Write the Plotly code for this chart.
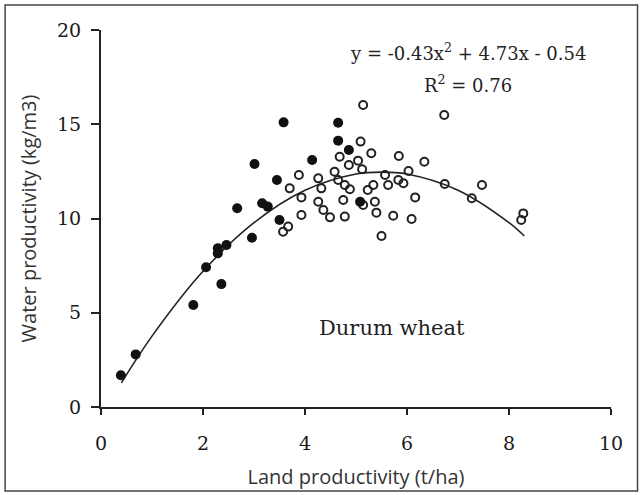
import plotly.graph_objects as go

# Filled markers
filled_x = [0.39, 0.68, 1.81, 2.06, 2.29, 2.29, 2.46, 2.36, 2.67, 2.96, 3.01, 3.16, 3.27,
            3.45, 3.50, 3.58, 4.14, 4.65, 4.65, 4.86, 5.08]
filled_y = [1.68, 2.79, 5.41, 7.41, 8.42, 8.15, 8.59, 6.52, 10.54, 8.98, 12.89, 10.81, 10.63,
            12.04, 9.92, 15.10, 13.10, 15.08, 14.13, 13.63, 10.89]

# Open markers
open_x = [5.14, 6.73, 5.09, 5.30, 4.68, 5.04, 4.86, 5.84, 6.34, 5.12, 3.88, 4.58, 4.26, 4.65,
          5.57, 6.03, 5.83, 5.93, 5.34, 5.63, 6.74, 7.47, 4.32, 4.78, 4.88, 5.23, 3.70, 3.93,
          4.26, 4.75, 5.14, 5.37, 6.16, 7.27, 4.36, 3.93, 4.49, 4.78, 5.40, 5.73, 6.09, 5.50,
          8.28, 8.24, 3.67, 3.57]
open_y = [16.02, 15.49, 14.08, 13.46, 13.28, 13.07, 12.84, 13.32, 13.01, 12.61, 12.31, 12.48,
          12.13, 12.04, 12.31, 12.52, 12.04, 11.87, 11.78, 11.78, 11.83, 11.78, 11.60, 11.78,
          11.55, 11.51, 11.60, 11.12, 10.89, 10.98, 10.72, 10.89, 11.12, 11.07, 10.45, 10.19,
          10.06, 10.10, 10.31, 10.15, 9.97, 9.07, 10.27, 9.92, 9.57, 9.30]

# Fitted curve, points
curve_x = [0.4, 1.0, 2.0, 3.0, 4.0, 5.0, 5.5, 6.0, 7.0, 8.0, 8.3]
curve_y = [1.28, 3.76, 7.20, 9.78, 11.50, 12.36, 12.46, 12.36, 11.50, 9.78, 9.07]

x_ticks = [0, 2, 4, 6, 8, 10]
y_ticks = [0, 5, 10, 15, 20]

equation_text = "y = -0.43x<sup>2</sup> + 4.73x - 0.54"
r2_text = "R<sup>2</sup> = 0.76"
crop_label = "Durum wheat"

fig = go.Figure()
fig.add_trace(go.Scatter(x=curve_x, y=curve_y, mode="lines", line=dict(color="#222", width=1.6, shape="spline"),
                         hoverinfo="skip", showlegend=False))
fig.add_trace(go.Scatter(x=open_x, y=open_y, mode="markers",
                         marker=dict(symbol="circle-open", size=8, color="#222", line=dict(width=2, color="#222")),
                         showlegend=False))
fig.add_trace(go.Scatter(x=filled_x, y=filled_y, mode="markers",
                         marker=dict(symbol="circle", size=10, color="#111"),
                         showlegend=False))

serif = "DejaVu Serif"
fig.update_layout(
    width=643, height=495,
    margin=dict(l=101, r=32, t=30, b=88),
    paper_bgcolor="white", plot_bgcolor="white",
    xaxis=dict(range=[0, 10], tickvals=x_ticks, showgrid=False, zeroline=False, automargin=False,
               showline=True, linecolor="#222", linewidth=2,
               ticks="outside", ticklen=6, tickwidth=2, tickcolor="#222",
               tickfont=dict(family=serif, size=19, color="#1a1a1a"), ticklabelstandoff=12,
               title=dict(text="Land productivity (t/ha)", standoff=17,
                          font=dict(family="Open Sans", size=20, color="#333"))),
    yaxis=dict(range=[0, 20], tickvals=y_ticks, showgrid=False, zeroline=False, automargin=False,
               showline=True, linecolor="#222", linewidth=2,
               ticks="outside", ticklen=8, tickwidth=2, tickcolor="#222",
               tickfont=dict(family=serif, size=19, color="#1a1a1a"), ticklabelstandoff=6,
               title=dict(text="Water productivity (kg/m3)", standoff=15,
                          font=dict(family="Open Sans", size=20, color="#333"))),
    annotations=[
        dict(x=7.2, y=18.85, xref="x", yref="y", text=equation_text, showarrow=False,
             font=dict(family=serif, size=18, color="#222")),
        dict(x=7.2, y=17.15, xref="x", yref="y", text=r2_text, showarrow=False,
             font=dict(family=serif, size=18, color="#222")),
        dict(x=5.7, y=4.2, xref="x", yref="y", text=crop_label, showarrow=False,
             font=dict(family=serif, size=21, color="#222")),
    ],
    shapes=[dict(type="rect", xref="paper", yref="paper", x0=-0.188, x1=1.052, y0=-0.223, y1=1.066,
                 line=dict(color="#444", width=1.5), fillcolor="rgba(0,0,0,0)", layer="below")],
)

fig.write_html("out.html")
